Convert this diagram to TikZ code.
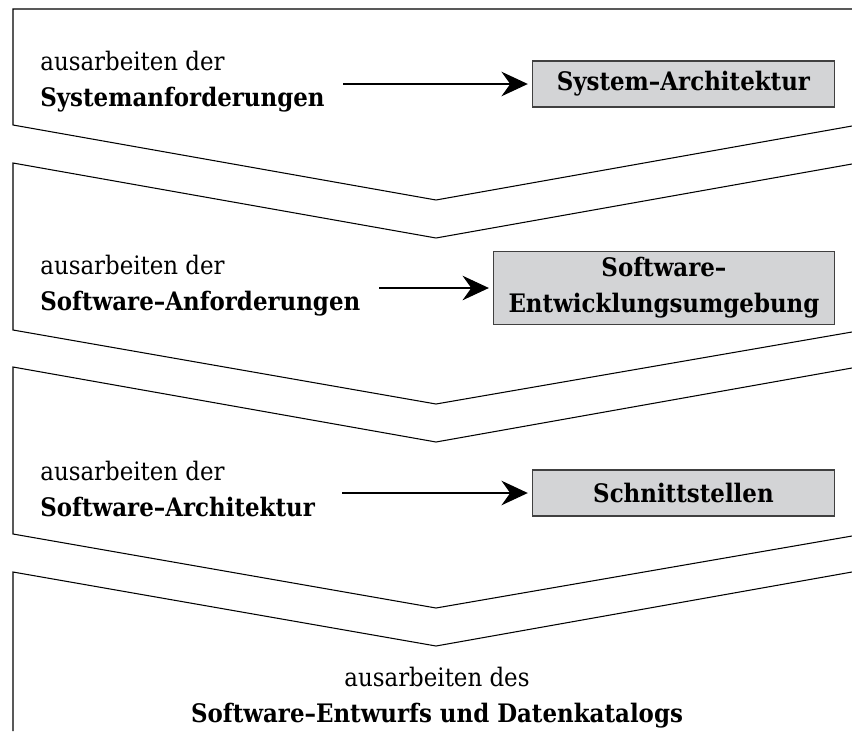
\documentclass[tikz,border=0pt]{standalone}
\usepackage{fontspec}
\setmainfont{DejaVu Serif Condensed}
\usepackage{tikz}
\usetikzlibrary{arrows.meta}

\definecolor{boxgray}{RGB}{211,212,214}

\tikzset{
  band/.style={line width=0.6pt},
  phase/.style={font=\fontsize{14.5}{20.5}\selectfont, align=left, anchor=west, inner sep=0pt},
  result/.style={draw=black!75, line width=0.7pt, fill=boxgray, anchor=east, align=center,
    minimum width=6.04cm, minimum height=0.92cm, inner xsep=0.3cm,
    font=\fontsize{14.5}{20.5}\selectfont\bfseries},
  flow/.style={-{Stealth[length=15pt,width=14pt,inset=5pt]}, line width=0.6pt, shorten >=2.3pt}
}

\begin{document}
\begin{tikzpicture}[x=0.02cm,y=-0.02cm]
\useasboundingbox (0,0) rectangle (852,731);

% phase bands
\draw[band] (852,9) -- (13,9) -- (13,125) -- (436,200) -- (852,126);
\foreach \y in {163,367}
{
\draw[band] (852,\y+1) -- (436,\y+75) -- (13,\y) -- (13,\y+167) -- (436,\y+241) -- (852,\y+169);
}
\draw[band] (852,572) -- (436,646) -- (13,572) -- (13,731);

% phase 1
\node[phase] (t1) at (40,82) {ausarbeiten der\\\textbf{Systemanforderungen}};
\node[result] (a1) at (835,84) {System--Architektur};
\coordinate (s1) at (343,84);
\draw[flow] (s1) -- (a1);

% phase 2
\node[phase] (t2) at (40,286) {ausarbeiten der\\\textbf{Software--Anforderungen}};
\node[result] (a2) at (835,288) {Software--\\Entwicklungsumgebung};
\coordinate (s2) at (379,288);
\draw[flow] (s2) -- (a2);

% phase 3
\node[phase] (t3) at (40,489) {ausarbeiten der\\\textbf{Software--Architektur}};
\node[result] (a3) at (835,493) {Schnittstellen};
\coordinate (s3) at (342,493);
\draw[flow] (s3) -- (a3);

% phase 4
\node[phase, anchor=center, align=center] (t4) at (437,698) {ausarbeiten des\\\textbf{Software--Entwurfs und Datenkatalogs}};

\end{tikzpicture}
\end{document}
